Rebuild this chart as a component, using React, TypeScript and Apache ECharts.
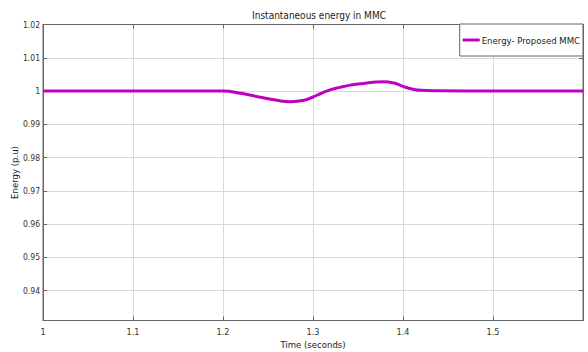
import React, { useEffect, useRef } from "react";
import * as echarts from "echarts";

const timeSeconds = [1.0, 1.1, 1.2, 1.22, 1.24, 1.26, 1.275, 1.29, 1.3, 1.31, 1.32, 1.33, 1.34, 1.35, 1.36, 1.37, 1.378, 1.39, 1.4, 1.41, 1.42, 1.44, 1.5, 1.6];
const energyPU = [1.0, 1.0, 1.0, 0.9993, 0.9982, 0.9972, 0.9968, 0.9972, 0.9982, 0.9994, 1.0004, 1.0011, 1.0017, 1.0021, 1.0024, 1.0027, 1.0028, 1.0024, 1.0014, 1.0006, 1.0002, 1.0001, 1.0, 1.0];
const yTicks = [0.94, 0.95, 0.96, 0.97, 0.98, 0.99, 1.0, 1.01, 1.02];
const seriesName = "Energy- Proposed MMC";

const FONT = "'Liberation Sans Narrow', 'DejaVu Sans Condensed', 'Liberation Sans', Arial, sans-serif";

export default function App() {
  const ref = useRef<HTMLDivElement>(null);
  useEffect(() => {
    document.body.style.margin = "0";
    const chart = echarts.init(ref.current!, null, { renderer: "svg" });
    const data = timeSeconds.map((t, i) => [t, energyPU[i]]);
    const gridColor = "#d8d8d8";
    const axisColor = "#666";
    chart.setOption({
      animation: false,
      backgroundColor: "#fff",
      textStyle: { fontFamily: FONT },
      title: {
        text: "Instantaneous energy in MMC",
        left: 314,
        top: 5,
        textAlign: "center",
        textStyle: { fontFamily: FONT, fontSize: 10, fontWeight: "normal", color: "#222" },
      },
      legend: {
        right: 5,
        top: 24,
        padding: [11, 3, 11, 3],
        borderColor: "#666",
        borderWidth: 1,
        backgroundColor: "#fff",
        icon: "rect",
        itemWidth: 17,
        itemHeight: 3,
        textStyle: { fontFamily: FONT, fontSize: 9.5, color: "#222", padding: [0, 0, 0, -3] },
        data: [seriesName],
      },
      grid: {
        left: 43,
        right: 5,
        top: 24.5,
        bottom: 31.5,
        outerBoundsMode: "none",
        containLabel: false,
        show: true,
        borderColor: axisColor,
        borderWidth: 1,
      },
      xAxis: [
        {
          type: "value",
          min: 1,
          max: 1.6,
          interval: 0.1,
          name: "Time (seconds)",
          nameLocation: "middle",
          nameGap: 19,
          nameMoveOverlap: false,
          nameTextStyle: { fontFamily: FONT, fontSize: 9.5, color: "#222" },
          axisLine: { show: true, lineStyle: { color: axisColor } },
          axisTick: { show: true, inside: true, length: 4, lineStyle: { color: axisColor } },
          axisLabel: { showMaxLabel: false, fontFamily: FONT, fontSize: 9, color: "#333", margin: 7 },
          splitLine: { show: true, lineStyle: { color: gridColor, width: 1 } },
        },
        {
          type: "value",
          position: "top",
          min: 1,
          max: 1.6,
          interval: 0.1,
          axisLine: { show: true, lineStyle: { color: axisColor } },
          axisTick: { show: true, inside: true, length: 4, lineStyle: { color: axisColor } },
          axisLabel: { show: false },
          splitLine: { show: false },
        },
      ],
      yAxis: [
        {
          type: "value",
          min: 0.931,
          max: 1.02,
          name: "Energy (p.u)",
          nameLocation: "middle",
          nameGap: 24,
          nameMoveOverlap: false,
          nameTextStyle: { fontFamily: FONT, fontSize: 9.5, color: "#222" },
          axisLine: { show: true, lineStyle: { color: axisColor } },
          axisTick: { show: true, inside: true, length: 4, customValues: yTicks, lineStyle: { color: axisColor } },
          axisLabel: {
            customValues: yTicks,
            fontFamily: FONT,
            fontSize: 8.5,
            color: "#333",
            margin: 3,
            formatter: (v: number) => String(parseFloat(v.toFixed(3))),
          },
          splitLine: { show: true, lineStyle: { color: gridColor, width: 1 } },
        },
        {
          type: "value",
          position: "right",
          min: 0.931,
          max: 1.02,
          axisLine: { show: true, lineStyle: { color: axisColor } },
          axisTick: { show: true, inside: true, length: 4, customValues: yTicks, lineStyle: { color: axisColor } },
          axisLabel: { show: false },
          splitLine: { show: false },
        },
      ],
      series: [
        {
          name: seriesName,
          type: "line",
          data,
          smooth: 0.5,
          showSymbol: false,
          lineStyle: { color: "#c000c0", width: 3 },
          itemStyle: { color: "#c000c0" },
        },
      ],
    });
    return () => chart.dispose();
  }, []);
  return <div ref={ref} style={{ width: 588, height: 352 }} />;
}
